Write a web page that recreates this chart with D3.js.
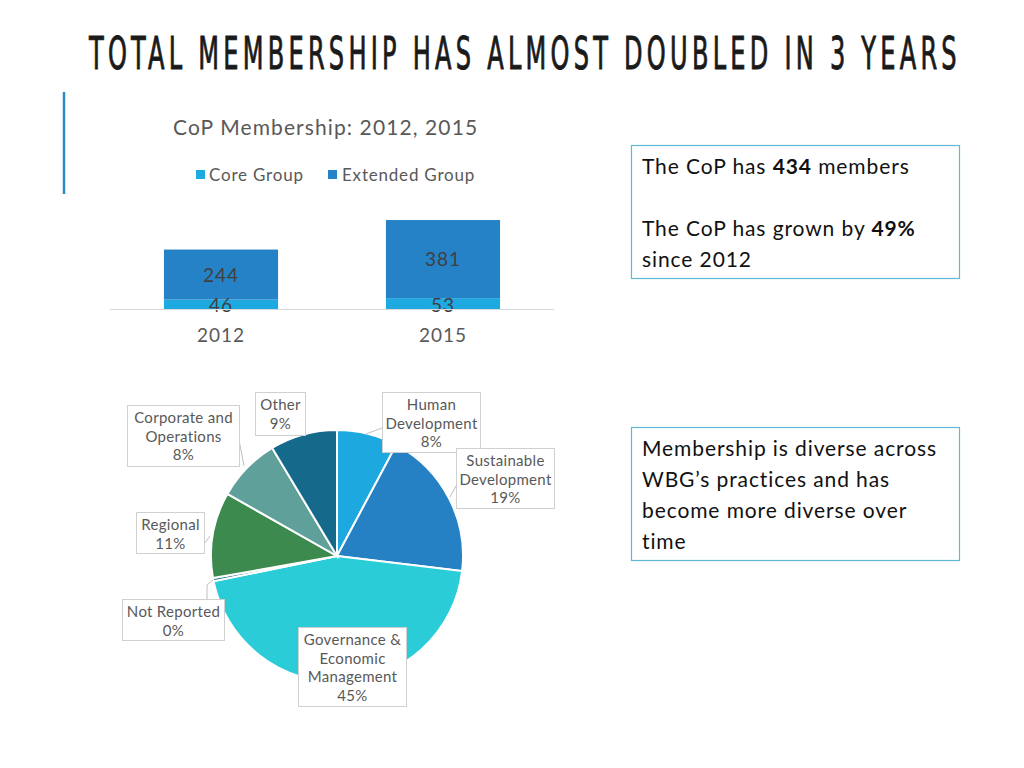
<!DOCTYPE html>
<html><head><meta charset="utf-8">
<script src="https://cdn.jsdelivr.net/npm/d3@7"></script>
<style>
html,body{margin:0;padding:0;background:#fff;}
svg{display:block;}
text{font-family:"Lato","Noto Sans",sans-serif;}
</style></head>
<body>
<svg id="c" width="1024" height="768"></svg>
<script>
// ---- data ----
const years = ["2012", "2015"];
const coreGroup = [46, 53];
const extendedGroup = [244, 381];
const seriesNames = ["Core Group", "Extended Group"];
const sectors = ["Human Development", "Sustainable Development", "Governance & Economic Management", "Not Reported", "Regional", "Corporate and Operations", "Other"];
const sectorShares = [7.8, 19.1, 44.9, 0.4, 11.0, 8.2, 8.6];
const sectorLabels = ["8%", "19%", "45%", "0%", "11%", "8%", "9%"];

const svg = d3.select("#c");

// title (condensed, letter-spaced)
const tg = svg.append("g");
const tt = tg.append("text").attr("x", 0).attr("y", 0)
  .style("font-family", "'DejaVu Sans Condensed','Liberation Sans Narrow',sans-serif")
  .style("font-size", "44px").style("letter-spacing", "7px").attr("fill", "#1a1a1a")
  .attr("stroke", "#1a1a1a").attr("stroke-width", 0.9)
  .text("TOTAL MEMBERSHIP HAS ALMOST DOUBLED IN 3 YEARS");
const tl = tt.node().getComputedTextLength() - 7;
tg.attr("transform", `translate(89,69) scale(${868 / tl},1)`);

// accent line
svg.append("line").attr("x1", 64).attr("x2", 64).attr("y1", 92).attr("y2", 194)
  .attr("stroke", "#2a8ac4").attr("stroke-width", 2.5);

// ---- bar chart ----
const x = d3.scaleBand().domain(years).range([110, 554]).paddingInner(0.486).paddingOuter(0.243);
const y = d3.scaleLinear().domain([0, 500]).range([309, 206.5]);
const barColors = ["#1fa9e1", "#2682c6"];

svg.append("text").attr("x", 173).attr("y", 135).attr("fill", "#595959")
  .style("font-size", "21px").style("letter-spacing", "1.1px").text("CoP Membership: 2012, 2015");

// legend
const leg = svg.append("g");
[[196, 209], [328, 342]].forEach((p, i) => {
  leg.append("rect").attr("x", p[0]).attr("y", 170).attr("width", 9).attr("height", 9).attr("fill", barColors[i]);
  leg.append("text").attr("x", p[1]).attr("y", 181).attr("fill", "#595959").style("font-size", "17px")
    .style("letter-spacing", "0.8px").text(seriesNames[i]);
});

const stack = years.map((yr, i) => ({yr, core: coreGroup[i], ext: extendedGroup[i]}));
const bars = svg.append("g");
stack.forEach(d => {
  bars.append("rect").attr("x", x(d.yr)).attr("width", x.bandwidth())
    .attr("y", y(d.core)).attr("height", y(0) - y(d.core)).attr("fill", barColors[0]);
  bars.append("rect").attr("x", x(d.yr)).attr("width", x.bandwidth())
    .attr("y", y(d.core + d.ext)).attr("height", y(d.core) - y(d.core + d.ext)).attr("fill", barColors[1]);
  const cx = x(d.yr) + x.bandwidth() / 2;
  bars.append("text").attr("x", cx).attr("y", (y(d.core) + y(d.core + d.ext)) / 2 + 7)
    .attr("text-anchor", "middle").attr("fill", "#404040").style("font-size", "19px").style("letter-spacing", "1px").text(d.ext);
  bars.append("text").attr("x", cx).attr("y", (y(0) + y(d.core)) / 2 + 8)
    .attr("text-anchor", "middle").attr("fill", "#404040").style("font-size", "19px").style("letter-spacing", "1px").text(d.core);
});
svg.append("line").attr("x1", 110).attr("x2", 554).attr("y1", y(0) + 0.5).attr("y2", y(0) + 0.5)
  .attr("stroke", "#d9d9d9").attr("stroke-width", 1);
const xAxis = svg.append("g").attr("transform", `translate(0,${y(0)})`)
  .call(d3.axisBottom(x).tickSize(0).tickPadding(20));
xAxis.select(".domain").remove();
xAxis.selectAll("text").attr("fill", "#595959").style("font-size", "19px").style("letter-spacing", "1px")
  .style("font-family", "Lato,'Noto Sans',sans-serif");

// ---- pie ----
const pieColors = ["#1da8e0", "#2581c4", "#2acdd7", "#1f6f8f", "#3c8a4e", "#5fa19a", "#156a8b"];
const cxP = 337, cyP = 556, R = 126;
const pie = d3.pie().sort(null).value(d => d)(sectorShares);
const arc = d3.arc().innerRadius(0).outerRadius(R);
const pg = svg.append("g").attr("transform", `translate(${cxP},${cyP})`);
pg.selectAll("path").data(pie).join("path").attr("d", arc)
  .attr("fill", (d, i) => pieColors[i]).attr("stroke", "#fff").attr("stroke-width", 2);

// label boxes (layout)
const boxes = [
  {i: 0, x: 382, y: 392, w: 98, h: 60, lines: ["Human", "Development"], leader: [[366, 434], [382, 428]]},
  {i: 1, x: 456, y: 448, w: 98, h: 60, lines: ["Sustainable", "Development"], leader: [[450, 497], [456, 486]]},
  {i: 2, x: 298, y: 627, w: 108, h: 79, lines: ["Governance &", "Economic", "Management"], leader: null},
  {i: 3, x: 122, y: 599, w: 102, h: 41, lines: ["Not Reported"], leader: [[213, 580], [207, 585], [207, 599]]},
  {i: 4, x: 136, y: 512, w: 68, h: 41, lines: ["Regional"], leader: [[210, 536], [204, 544]]},
  {i: 5, x: 127, y: 405, w: 112, h: 61, lines: ["Corporate and", "Operations"], leader: [[239, 440], [244, 466]]},
  {i: 6, x: 255, y: 392, w: 50, h: 43, lines: ["Other"], leader: null}
];
const lg = svg.append("g");
boxes.forEach(b => {
  if (b.leader) lg.append("path").attr("d", d3.line()(b.leader)).attr("fill", "none").attr("stroke", "#bfbfbf").attr("stroke-width", 1);
  lg.append("rect").attr("x", b.x + 0.5).attr("y", b.y + 0.5).attr("width", b.w).attr("height", b.h)
    .attr("fill", "#fff").attr("stroke", "#d0d0d0").attr("stroke-width", 1);
  const all = b.lines.concat([sectorLabels[b.i]]);
  all.forEach((t, k) => {
    lg.append("text").attr("x", b.x + b.w / 2 + 0.5).attr("y", b.y + 18 + k * 18.5)
      .attr("text-anchor", "middle").attr("fill", "#595959").style("font-size", "15px")
      .style("letter-spacing", "0.3px").text(t);
  });
});

// ---- text boxes ----
function tbox(bx, by, bw, bh, lines, lh, y0) {
  svg.append("rect").attr("x", bx + 0.5).attr("y", by + 0.5).attr("width", bw).attr("height", bh)
    .attr("fill", "#fff").attr("stroke", "#5fb8d8").attr("stroke-width", 1.2);
  lines.forEach((ln, k) => {
    const t = svg.append("text").attr("x", bx + 11).attr("y", y0 + k * lh).attr("fill", "#111")
      .style("font-size", "21px").style("letter-spacing", "0.9px");
    ln.forEach(seg => t.append("tspan").style("font-weight", seg[1] ? "bold" : "normal").text(seg[0]));
  });
}
tbox(631, 145, 328, 133, [
  [["The CoP has ", 0], ["434", 1], [" members", 0]],
  [],
  [["The CoP has grown by ", 0], ["49%", 1]],
  [["since 2012", 0]]
], 31, 174);
tbox(631, 427, 328, 133, [
  [["Membership is diverse across", 0]],
  [["WBG\u2019s practices and has", 0]],
  [["become more diverse over", 0]],
  [["time", 0]]
], 31, 456);
</script>
</body></html>
